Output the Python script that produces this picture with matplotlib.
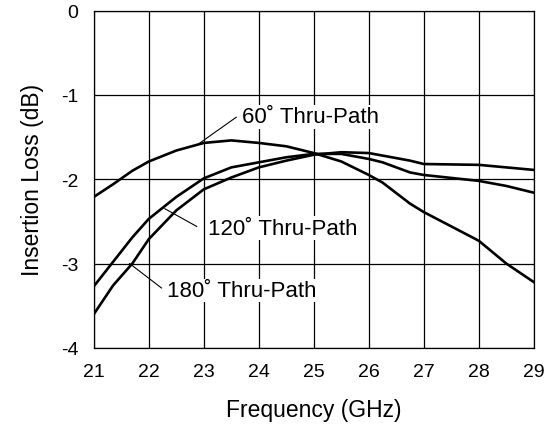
import matplotlib
matplotlib.use("Agg")
import matplotlib.pyplot as plt

plt.rcParams['font.family'] = ['Liberation Sans', 'DejaVu Sans']

freq = [21, 21.35, 21.7, 22, 22.5, 23, 23.5, 24, 24.5, 25, 25.5, 26, 26.25, 26.75, 27, 28, 28.5, 29]
loss_60 = [-2.21, -2.06, -1.90, -1.79, -1.66, -1.57, -1.54, -1.57, -1.61, -1.69, -1.79, -1.95,
           -2.04, -2.29, -2.39, -2.73, -3.00, -3.22]
loss_120 = [-3.27, -2.98, -2.69, -2.47, -2.21, -1.99, -1.86, -1.80, -1.74, -1.70, -1.70, -1.76,
            -1.80, -1.92, -1.95, -2.02, -2.08, -2.16]
loss_180 = [-3.60, -3.26, -3.00, -2.71, -2.37, -2.12, -1.98, -1.86, -1.78, -1.71, -1.68, -1.69,
            -1.72, -1.78, -1.82, -1.83, -1.86, -1.89]

xticks = [21, 22, 23, 24, 25, 26, 27, 28, 29]
yticks = [0, -1, -2, -3, -4]

labels = ["60˚ Thru-Path", "120˚ Thru-Path", "180˚ Thru-Path"]
label_pos = [(23.70, -1.26), (23.07, -2.58), (22.33, -3.32)]
leader_start = [(23.59, -1.265), (22.87, -2.56), (22.23, -3.29)]
leader_end = [(22.93, -1.57), (22.29, -2.35), (21.65, -3.00)]

fig = plt.figure(figsize=(5.52, 4.27), dpi=100)
ax = fig.add_axes([0.170, 0.183, 0.797, 0.790])

for ys in (loss_60, loss_120, loss_180):
    ax.plot(freq, ys, color='black', lw=1.9, solid_joinstyle='miter')

for (tx, ty), (sx, sy), (ex, ey), t in zip(label_pos, leader_start, leader_end, labels):
    ax.plot([sx, ex], [sy, ey], color='black', lw=0.8)
    ax.text(tx, ty, t, fontsize=16, ha='left', va='center',
            bbox=dict(facecolor='white', edgecolor='none', pad=1.0))

ax.set_xlim(21, 29)
ax.set_ylim(-4, 0)
ax.set_xticks(xticks)
ax.set_yticks(yticks)
ax.set_xticklabels([str(v) for v in xticks])
ax.set_yticklabels([str(v) for v in yticks])
ax.grid(True, color='black', lw=0.9)
ax.set_axisbelow(True)
ax.tick_params(length=0, labelsize=14, pad=11)
for s in ax.spines.values():
    s.set_linewidth(0.9)

ax.set_xlabel("Frequency (GHz)", fontsize=16.5, labelpad=13)
ax.set_ylabel("Insertion Loss (dB)", fontsize=16.5, labelpad=12)

fig.savefig("out.png", dpi=100)
